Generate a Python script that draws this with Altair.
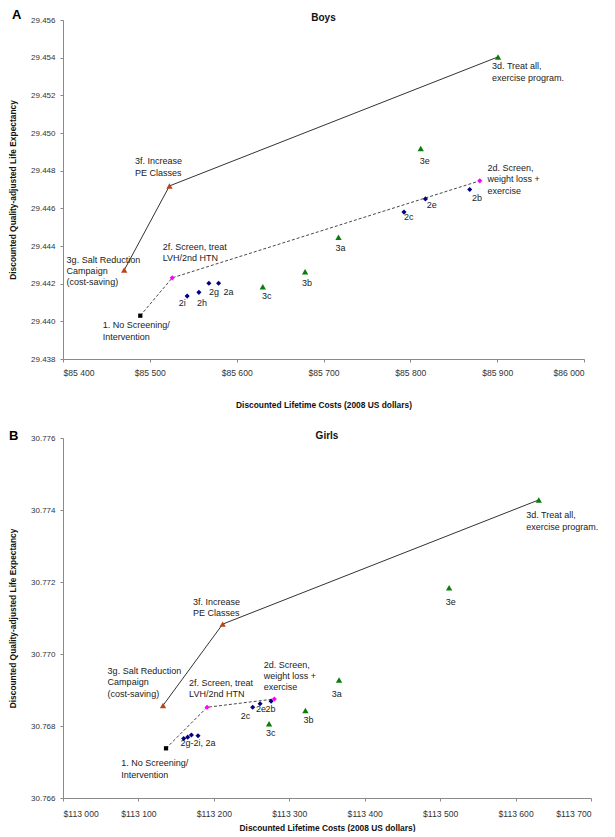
import altair as alt
import pandas as pd

FONT = "Liberation Sans"

# ---------------- data ----------------
ids = ["1", "2a", "2b", "2c", "2d", "2e", "2f", "2g", "2h", "2i",
       "3a", "3b", "3c", "3d", "3e", "3f", "3g"]

boys_cost = [85489, 85579.2, 85868.4, 85792.7, 85880, 85817.4, 85525.8, 85568, 85556.5, 85543,
             85717.3, 85678.8, 85630.1, 85901, 85812, 85522.6, 85470.5]
boys_qale = [29.44030, 29.44202, 29.44700, 29.44580, 29.44746, 29.44650, 29.44231, 29.44202, 29.44154, 29.44134,
             29.44446, 29.44263, 29.44184, 29.45404, 29.44918, 29.44719, 29.44272]

girls_cost = [113136.6, 113179, 113275.9, 113251.5, 113280.2, 113261.3, 113191, 113170.2, 113165.3, 113160,
              113366, 113321.4, 113273.2, 113630.8, 113511.9, 113211.7, 113132.6]
girls_qale = [30.76738, 30.76773, 30.76869, 30.76852, 30.76875, 30.76862, 30.76852, 30.76775, 30.76769, 30.76765,
              30.76928, 30.76843, 30.76806, 30.77428, 30.77184, 30.77083, 30.76857]

frontier_solid = ["3g", "3f", "3d"]
frontier_dashed = ["1", "2f", "2d"]

boys_xticks = [85400, 85500, 85600, 85700, 85800, 85900, 86000]
boys_yticks = [29.438, 29.440, 29.442, 29.444, 29.446, 29.448, 29.450, 29.452, 29.454, 29.456]
girls_xticks = [113000, 113100, 113200, 113300, 113400, 113500, 113600, 113700]
girls_yticks = [30.766, 30.768, 30.770, 30.772, 30.774, 30.776]

# label texts attached to points
boys_labels = [
    ("1", "1. No Screening/\nIntervention"), ("2f", "2f. Screen, treat\nLVH/2nd HTN"),
    ("3g", "3g. Salt Reduction\nCampaign\n(cost-saving)"), ("3f", "3f. Increase\nPE Classes"),
    ("3d", "3d. Treat all,\nexercise program."), ("2d", "2d. Screen,\nweight loss +\nexercise"),
    ("2i", "2i"), ("2h", "2h"), ("2g", "2g"), ("2a", "2a"), ("3c", "3c"), ("3b", "3b"),
    ("3a", "3a"), ("3e", "3e"), ("2b", "2b"), ("2e", "2e"), ("2c", "2c"),
]
girls_labels = [
    ("3f", "3f. Increase\nPE Classes"), ("3g", "3g. Salt Reduction\nCampaign\n(cost-saving)"),
    ("2f", "2f. Screen, treat\nLVH/2nd HTN"), ("2d", "2d. Screen,\nweight loss +\nexercise"),
    ("2e", "2e"), ("2b", "2b"), ("2c", "2c"), ("3c", "3c"), ("3b", "3b"), ("3a", "3a"),
    ("2i", "2g-2i, 2a"), ("1", "1. No Screening/\nIntervention"),
    ("3d", "3d. Treat all,\nexercise program."), ("3e", "3e"),
]

# label placement (pixel offsets from point: dx, dy of first-line centre, align)
boys_label_pos = {
    "1": (-37.6, 10, "left"), "2f": (-9.6, -30.4, "left"), "3g": (-57.6, -10, "left"),
    "3f": (-34.5, -24, "left"), "3d": (-6, 10, "left"), "2d": (7.7, -12.4, "left"),
    "2i": (-5, 6.7, "center"), "2h": (3, 10.4, "center"), "2g": (5, 8.4, "center"),
    "2a": (10, 8.4, "center"), "3c": (4, 9, "center"), "3b": (2, 11.6, "center"),
    "3a": (2, 10.4, "center"), "3e": (4, 13, "center"), "2b": (7.3, 8.4, "center"),
    "2e": (6.3, 6.3, "center"), "2c": (4.7, 5, "center"),
}
girls_label_pos = {
    "3f": (-29.6, -21.7, "left"), "3g": (-55.4, -34, "left"), "2f": (-18, -23.7, "left"),
    "2d": (-10.7, -34, "left"), "2e": (-4, 5.7, "left"), "2b": (-5.7, 8, "left"),
    "2c": (-7.3, 8.6, "center"), "3c": (1.6, 8.7, "center"), "3b": (3, 9, "center"),
    "3a": (-2.4, 14.4, "center"), "2i": (-3.3, 4, "left"), "1": (-44.7, 15.3, "left"),
    "3d": (-12.6, 16, "left"), "3e": (1.6, 14.3, "center"),
}


def style(pid):
    if pid == "1":
        return "#000000", "square", 18
    if pid in ("2d", "2f"):
        return "#FF00FF", "diamond", 26
    if pid.startswith("2"):
        return "#000080", "diamond", 26
    if pid in ("3f", "3g"):
        return "#B5471B", "triangle-up", 40
    return "#0A7D0A", "triangle-up", 40


def panel(cost, qale, xdom, ydom, xticks, yticks, w, h, title, letter, letter_x, letter_y,
          labels, label_pos, x_label_pad, x_title_pad):
    df = pd.DataFrame({"id": ids, "cost": cost, "qale": qale})
    st = [style(i) for i in ids]
    df["color"] = [s[0] for s in st]
    df["shape"] = [s[1] for s in st]
    df["size"] = [s[2] for s in st]

    x = alt.X("cost:Q", scale=alt.Scale(domain=xdom, nice=False, zero=False),
              axis=alt.Axis(values=xticks,
                            labelExpr="'$' + replace(format(datum.value, ','), ',', ' ')",
                            title="Discounted Lifetime Costs (2008 US dollars)",
                            titlePadding=x_title_pad, labelPadding=x_label_pad, tickSize=3,
                            labelFontSize=8.6, titleFontSize=8.4))
    y = alt.Y("qale:Q", scale=alt.Scale(domain=ydom, nice=False, zero=False),
              axis=alt.Axis(values=yticks, format=".3f",
                            title="Discounted Quality-adjusted Life Expectancy",
                            titlePadding=13, labelPadding=5, tickSize=3, labelFontSize=8,
                            titleFontSize=8.4))

    pos = {i: k for k, i in enumerate(ids)}
    solid_df = pd.DataFrame({"cost": [cost[pos[i]] for i in frontier_solid],
                             "qale": [qale[pos[i]] for i in frontier_solid],
                             "o": list(range(len(frontier_solid)))})
    dashed_df = pd.DataFrame({"cost": [cost[pos[i]] for i in frontier_dashed],
                              "qale": [qale[pos[i]] for i in frontier_dashed],
                              "o": list(range(len(frontier_dashed)))})

    solid = alt.Chart(solid_df).mark_line(color="#333333", strokeWidth=1).encode(
        x=x, y=y, order="o:Q")
    dashed = alt.Chart(dashed_df).mark_line(color="#333333", strokeWidth=0.9,
                                            strokeDash=[3, 2]).encode(x=x, y=y, order="o:Q")
    points = alt.Chart(df).mark_point(filled=True, opacity=1).encode(
        x=x, y=y,
        color=alt.Color("color:N", scale=None),
        shape=alt.Shape("shape:N", scale=None),
        size=alt.Size("size:Q", scale=None),
    )

    layers = [solid, dashed, points]
    for pid, txt in labels:
        dx, dy, align = label_pos[pid]
        multi = "\n" in txt
        ldf = pd.DataFrame({"cost": [cost[pos[pid]]], "qale": [qale[pos[pid]]], "t": [txt]})
        mk = alt.Chart(ldf).mark_text(
            align=align, baseline="top" if multi else "middle",
            dx=dx, dy=(dy - 4.5) if multi else dy,
            fontSize=9, font=FONT, color="#222222", lineBreak="\n", lineHeight=11.4,
        ).encode(x=x, y=y, text="t:N")
        layers.append(mk)

    tdf = pd.DataFrame({"t": [title]})
    layers.append(alt.Chart(tdf).mark_text(fontSize=10, fontWeight="bold", font=FONT,
                                           baseline="middle", color="#111111").encode(
        text="t:N", x=alt.value(w / 2), y=alt.value(-2.5)))
    ldf2 = pd.DataFrame({"t": [letter]})
    layers.append(alt.Chart(ldf2).mark_text(fontSize=13, fontWeight="bold", font=FONT,
                                            align="left", baseline="middle",
                                            color="#000000").encode(
        text="t:N", x=alt.value(letter_x), y=alt.value(letter_y)))

    return alt.layer(*layers).properties(width=w, height=h)


top = panel(boys_cost, boys_qale, [85400, 86000], [29.438, 29.456], boys_xticks, boys_yticks,
            521, 339, "Boys", "A", -51, -5.5, boys_labels, boys_label_pos, 6, 24)
bottom = panel(girls_cost, girls_qale, [113000, 113700], [30.766, 30.776], girls_xticks,
               girls_yticks, 528, 360, "Girls", "B", -54, -2.2, girls_labels, girls_label_pos, 8, 6)

chart = alt.vconcat(top, bottom, spacing=20).properties(padding=0).configure(
    font=FONT
).configure_view(stroke=None).configure_axis(
    grid=False, domainColor="#8a8a8a", tickColor="#8a8a8a", labelColor="#333333",
    titleColor="#111111", labelFont=FONT, titleFont=FONT, titleFontWeight="bold",
    domainWidth=1, tickWidth=1,
)

chart.save("out.html", embed_options={"renderer": "svg", "actions": False})
